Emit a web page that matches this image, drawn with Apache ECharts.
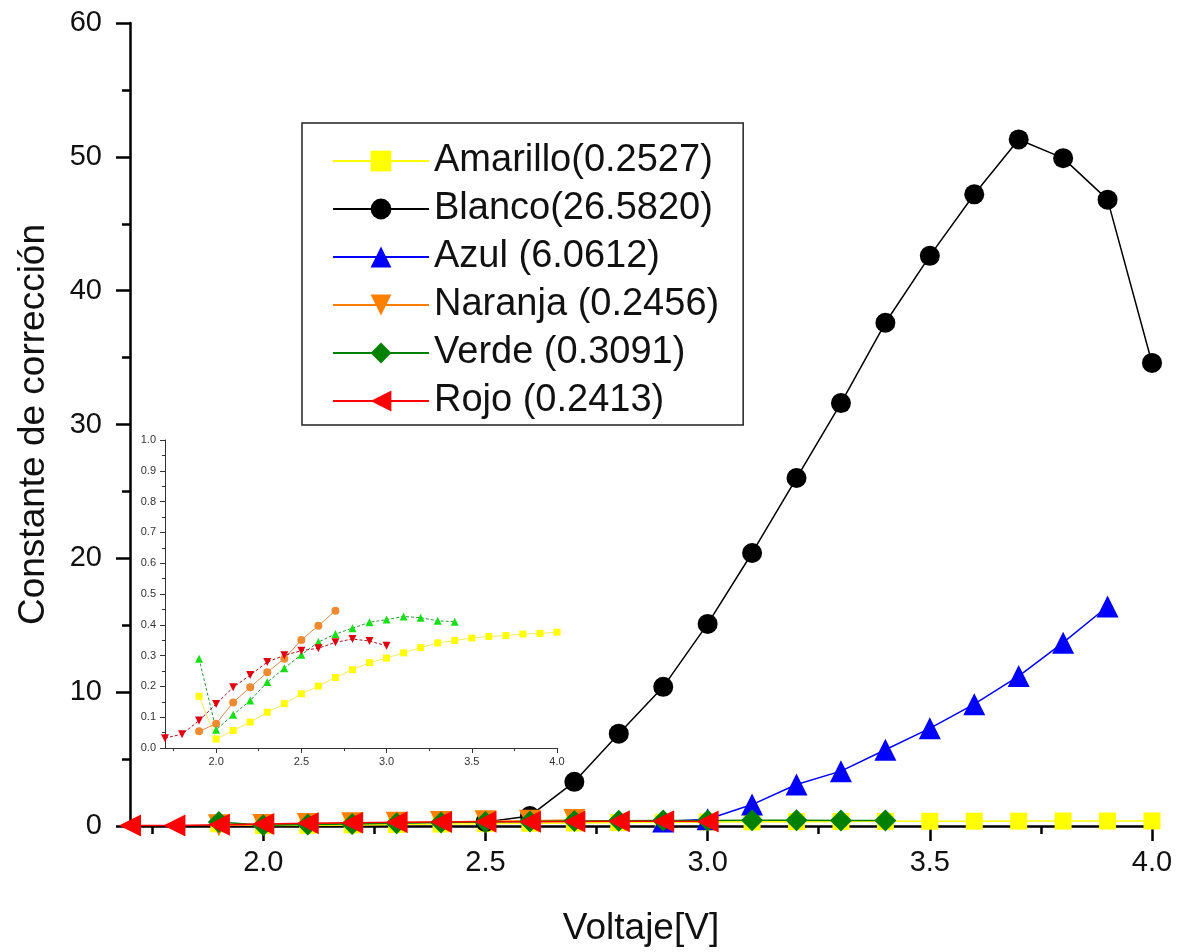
<!DOCTYPE html>
<html>
<head>
<meta charset="utf-8">
<script src="https://cdn.jsdelivr.net/npm/echarts@6/dist/echarts.min.js"></script>
<style>
  html, body { margin: 0; padding: 0; background: #fff; }
  #chart { width: 1182px; height: 952px; }
</style>
</head>
<body>
<div id="chart"></div>
<script>
// voltaje medido (V)
const voltaje = [1.7, 1.8, 1.9, 2.0, 2.1, 2.2, 2.3, 2.4, 2.5, 2.6, 2.7, 2.8, 2.9, 3.0, 3.1, 3.2, 3.3, 3.4, 3.5, 3.6, 3.7, 3.8, 3.9, 4.0]

// constante de correccion por color (null = sin medida)
const amarillo = [null, null, 0.168, 0.029, 0.057, 0.084, 0.116, 0.144, 0.176, 0.201, 0.229, 0.254, 0.277, 0.292, 0.309, 0.326, 0.341, 0.349, 0.357, 0.362, 0.365, 0.370, 0.372, 0.376]
const blanco = [null, null, null, null, null, null, null, null, 0.3, 0.75, 3.3, 6.9, 10.4, 15.1, 20.4, 26.0, 31.6, 37.6, 42.6, 47.2, 51.3, 49.9, 46.8, 34.6]
const azul = [null, null, null, null, null, null, null, null, null, null, null, null, 0.34, 0.5, 1.6, 3.1, 4.1, 5.7, 7.3, 9.1, 11.2, 13.7, 16.4, null]
const naranja = [null, null, 0.054, 0.079, 0.148, 0.197, 0.246, 0.290, 0.351, 0.397, 0.446, null, null, null, null, null, null, null, null, null, null, null, null, null]
const verde = [null, null, 0.290, 0.059, 0.108, 0.154, 0.214, 0.259, 0.303, 0.344, 0.370, 0.389, 0.408, 0.417, 0.427, 0.423, 0.413, 0.410, null, null, null, null, null, null]
const rojo = [0.032, 0.045, 0.089, 0.143, 0.197, 0.237, 0.279, 0.301, 0.316, 0.324, 0.343, 0.354, 0.347, 0.332, null, null, null, null, null, null, null, null, null, null]

const nombres = ['Amarillo(0.2527)', 'Blanco(26.5820)', 'Azul (6.0612)', 'Naranja (0.2456)', 'Verde (0.3091)', 'Rojo (0.2413)']

// ticks
const xTicks = [2.0, 2.5, 3.0, 3.5, 4.0]
const xMinorTicks = [1.75, 2.25, 2.75, 3.25, 3.75]

const FONT = 'Liberation Sans'

function pares(arr) {
  const out = []
  arr.forEach((v, i) => { if (v !== null) out.push([voltaje[i], v]) })
  return out
}

function serieMain(name, arr, color, symbol, size, rotate) {
  return {
    name: name,
    type: 'line',
    xAxisIndex: 0,
    yAxisIndex: 0,
    data: pares(arr),
    symbol: symbol,
    symbolSize: size,
    symbolRotate: rotate || 0,
    showAllSymbol: true,
    lineStyle: { color: color, width: 1.5 },
    itemStyle: { color: color },
    emphasis: { disabled: true },
    animation: false
  }
}

function serieInset(name, arr, line, color, symbol, size, rotate, dashed) {
  return {
    name: name,
    type: 'line',
    xAxisIndex: 2,
    yAxisIndex: 1,
    data: pares(arr),
    symbol: symbol,
    symbolSize: size,
    symbolRotate: rotate || 0,
    showAllSymbol: true,
    lineStyle: { color: line, width: 1, type: dashed ? [3, 2] : 'solid' },
    itemStyle: { color: color },
    emphasis: { disabled: true },
    animation: false
  }
}

var myChart = echarts.init(document.getElementById('chart'))
const option = {
  backgroundColor: '#fff',
  animation: false,
  grid: [
    { left: 130, right: 30, top: 23, bottom: 125 },
    { left: 165, right: 625, top: 440, bottom: 204 }
  ],
  legend: {
    data: nombres,
    orient: 'vertical',
    left: 302,
    top: 123,
    padding: [19, 24, 5, 30],
    itemGap: 10,
    itemWidth: 96,
    itemHeight: 26,
    borderColor: '#222',
    borderWidth: 1.5,
    textStyle: { fontFamily: FONT, fontSize: 38, color: '#111', lineHeight: 38 },
    selectedMode: false
  },
  xAxis: [
    {
      type: 'value', gridIndex: 0, min: 1.7, max: 4.0, position: 'bottom',
      name: 'Voltaje[V]', nameLocation: 'middle', nameGap: 84,
      nameTextStyle: { fontFamily: FONT, fontSize: 37, color: '#111' },
      axisLine: { lineStyle: { color: '#000', width: 2.5 } },
      axisTick: { show: true, customValues: xTicks, length: 15, lineStyle: { color: '#000', width: 2.5 } },
      axisLabel: { customValues: xTicks, formatter: v => v.toFixed(1), margin: 22, fontFamily: FONT, fontSize: 29, color: '#111' },
      splitLine: { show: false }
    },
    {
      type: 'value', gridIndex: 0, min: 1.7, max: 4.0, position: 'bottom',
      axisLine: { show: false },
      axisTick: { show: true, customValues: xMinorTicks, length: 8, lineStyle: { color: '#000', width: 2.5 } },
      axisLabel: { show: false },
      splitLine: { show: false }
    },
    {
      type: 'value', gridIndex: 1, min: 1.7, max: 4.0, position: 'bottom',
      axisLine: { lineStyle: { color: '#333', width: 1 } },
      axisTick: { show: true, customValues: xTicks, length: 5, lineStyle: { color: '#333', width: 1 } },
      axisLabel: { customValues: xTicks, formatter: v => v.toFixed(1), margin: 8, fontFamily: FONT, fontSize: 11, color: '#333' },
      splitLine: { show: false }
    },
    {
      type: 'value', gridIndex: 1, min: 1.7, max: 4.0, position: 'bottom',
      axisLine: { show: false },
      axisTick: { show: true, customValues: xMinorTicks, length: 3, lineStyle: { color: '#333', width: 1 } },
      axisLabel: { show: false },
      splitLine: { show: false }
    }
  ],
  yAxis: [
    {
      type: 'value', gridIndex: 0, min: 0, max: 60, interval: 10,
      name: 'Constante de corrección', nameLocation: 'middle', nameGap: 78, nameRotate: 90,
      nameTextStyle: { fontFamily: FONT, fontSize: 37, color: '#111' },
      axisLine: { show: true, lineStyle: { color: '#000', width: 2.5 } },
      axisTick: { show: true, length: 14, lineStyle: { color: '#000', width: 2.5 } },
      minorTick: { show: true, splitNumber: 2, length: 8, lineStyle: { color: '#000', width: 2.5 } },
      axisLabel: { margin: 28, fontFamily: FONT, fontSize: 29, color: '#111' },
      splitLine: { show: false }
    },
    {
      type: 'value', gridIndex: 1, min: 0, max: 1, interval: 0.1,
      axisLine: { show: true, lineStyle: { color: '#333', width: 1 } },
      axisTick: { show: true, length: 5, lineStyle: { color: '#333', width: 1 } },
      minorTick: { show: true, splitNumber: 2, length: 3, lineStyle: { color: '#333', width: 1 } },
      axisLabel: { margin: 9, formatter: v => v.toFixed(1), fontFamily: FONT, fontSize: 11, color: '#333' },
      splitLine: { show: false }
    }
  ],
  series: [
    serieMain(nombres[0], amarillo, '#ffff00', 'rect', 17),
    serieMain(nombres[1], blanco, '#000000', 'circle', 20),
    serieMain(nombres[2], azul, '#0000ff', 'triangle', 22),
    serieMain(nombres[3], naranja, '#ff8000', 'triangle', 22, 180),
    serieMain(nombres[4], verde, '#008000', 'diamond', 22),
    serieMain(nombres[5], rojo, '#ff0000', 'triangle', 22, 90),
    serieInset('Amarillo inset', amarillo, '#f4ec60', '#ffff00', 'rect', 7),
    serieInset('Naranja inset', naranja, '#d88a50', '#f08a30', 'circle', 8),
    serieInset('Verde inset', verde, '#2a9a3a', '#18e018', 'triangle', 8, 0, true),
    serieInset('Rojo inset', rojo, '#a01020', '#e00010', 'triangle', 8, 180, true)
  ]
}
myChart.setOption(option)
</script>
</body>
</html>
